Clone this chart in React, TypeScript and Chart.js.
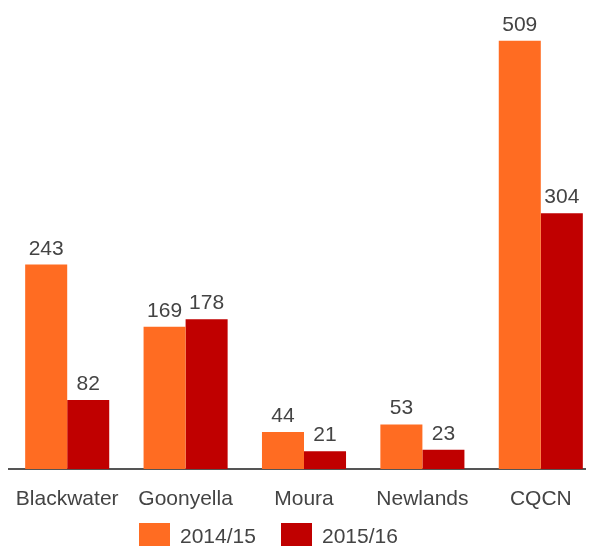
import React, { useEffect, useRef } from "react";
import { Chart, registerables } from "chart.js";

Chart.register(...registerables);

const categories = ["Blackwater", "Goonyella", "Moura", "Newlands", "CQCN"];
const seriesNames = ["2014/15", "2015/16"];
const values2014 = [243, 169, 44, 53, 509];
const values2015 = [82, 178, 21, 23, 304];
const seriesColors = ["#FF6C22", "#C00000"];

const FONT = "'Liberation Sans', Arial, Helvetica, sans-serif";
const TEXT_COLOR = "#444444";

// Writes each bar's value just above it
const valueLabels = {
  id: "valueLabels",
  afterDatasetsDraw(chart: any) {
    const { ctx } = chart;
    ctx.save();
    ctx.font = `21px ${FONT}`;
    ctx.fillStyle = TEXT_COLOR;
    ctx.textAlign = "center";
    ctx.textBaseline = "alphabetic";
    chart.data.datasets.forEach((ds: any, i: number) => {
      const meta = chart.getDatasetMeta(i);
      meta.data.forEach((bar: any, j: number) => {
        ctx.fillText(String(ds.data[j]), bar.x, bar.y - 10);
      });
    });
    ctx.restore();
  },
};

// Legend row below the category labels
const bottomLegend = {
  id: "bottomLegend",
  afterDraw(chart: any) {
    const { ctx } = chart;
    const boxX = [131, 273];
    ctx.save();
    ctx.font = `21px ${FONT}`;
    ctx.textAlign = "left";
    ctx.textBaseline = "alphabetic";
    seriesNames.forEach((name, i) => {
      ctx.fillStyle = seriesColors[i];
      ctx.fillRect(boxX[i], 515, 31, 23);
      ctx.fillStyle = TEXT_COLOR;
      ctx.fillText(name, boxX[i] + 41, 535);
    });
    ctx.restore();
  },
};

export default function App() {
  const canvasRef = useRef<HTMLCanvasElement | null>(null);

  useEffect(() => {
    document.body.style.overflow = "hidden";
    const chart = new Chart(canvasRef.current as HTMLCanvasElement, {
      type: "bar",
      data: {
        labels: categories,
        datasets: [
          {
            label: seriesNames[0],
            data: values2014,
            backgroundColor: seriesColors[0],
            borderWidth: 0,
          },
          {
            label: seriesNames[1],
            data: values2015,
            backgroundColor: seriesColors[1],
            borderWidth: 0,
          },
        ],
      },
      options: {
        animation: false,
        responsive: true,
        maintainAspectRatio: false,
        layout: { padding: 0 },
        plugins: {
          legend: { display: false },
          tooltip: { enabled: false },
        },
        datasets: {
          bar: { categoryPercentage: 0.71, barPercentage: 1 },
        },
        scales: {
          x: {
            grid: { display: false, drawTicks: false },
            border: { display: true, color: "#555555", width: 2 },
            ticks: {
              color: TEXT_COLOR,
              font: { family: FONT, size: 21 },
              padding: 18,
              maxRotation: 0,
              autoSkip: false,
            },
            afterFit: (scale: any) => {
              scale.height = 77;
              scale.paddingLeft = 0;
              scale.paddingRight = 0;
            },
          },
          y: {
            display: false,
            min: 0,
            max: 548,
          },
        },
      },
      plugins: [valueLabels, bottomLegend],
    });
    return () => chart.destroy();
  }, []);

  return (
    <div style={{ width: 592, height: 538, position: "relative" }}>
      <canvas ref={canvasRef} />
    </div>
  );
}
